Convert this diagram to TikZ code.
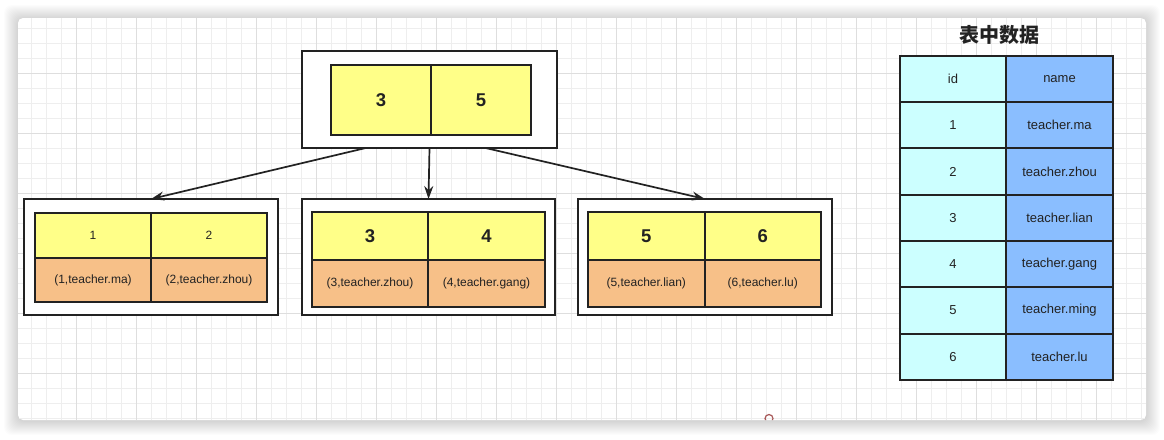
\documentclass[tikz,border=0pt]{standalone}
\usepackage{fontspec}
\setmainfont{Liberation Sans}
\newfontfamily\cjk{Noto Sans CJK SC}
\usetikzlibrary{arrows.meta,calc,positioning}

\definecolor{keyyellow}{HTML}{FFFF88}
\definecolor{dataorange}{HTML}{F7C088}
\definecolor{idcyan}{HTML}{CCFFFF}
\definecolor{nameblue}{HTML}{8ABEFF}
\definecolor{linegray}{HTML}{222222}
\definecolor{textgray}{HTML}{222222}
\definecolor{minorgrid}{HTML}{EEEEEE}
\definecolor{majorgrid}{HTML}{DEDEDE}
\definecolor{dotred}{HTML}{A85858}

\tikzset{
    outerbox/.style={draw=linegray, line width=2pt, fill=white, inner sep=0pt, outer sep=0pt},
    cell/.style={draw=linegray, line width=2pt, inner sep=0pt, outer sep=0pt, text=textgray},
    keycell/.style={cell, fill=keyyellow, font=\fontsize{18.5}{20}\selectfont\bfseries},
    smallkey/.style={cell, fill=keyyellow, font=\fontsize{12}{14}\selectfont},
    datacell/.style={cell, fill=dataorange, font=\fontsize{12}{14}\selectfont},
    idcell/.style={cell, fill=idcyan, minimum width=106pt, minimum height=46.33pt, font=\fontsize{13}{15}\selectfont},
    namecell/.style={cell, fill=nameblue, minimum width=107pt, minimum height=46.33pt, font=\fontsize{13}{15}\selectfont},
    link/.style={draw=linegray, line width=1.7pt, -{Stealth[length=13pt,width=9pt]}},
}

\begin{document}
\begin{tikzpicture}[x=1pt, y=-1pt]
    \useasboundingbox (0,0) rectangle (1164,439);
    \fill[white] (0,0) rectangle (1164,439);

    % Panel with soft shadow
    \foreach \s in {1,...,14}
        \fill[black, opacity=0.011, rounded corners=8pt] (18-\s,19-\s) rectangle (1146+\s,421+\s);
    \fill[white, rounded corners=5pt] (18,18) rectangle (1146,420);

    % Grid
    \begin{scope}
        \clip[rounded corners=5pt] (18,18) rectangle (1146,420);
        \foreach \i in {2,...,76}
            \draw[minorgrid, line width=1pt] ({1.7+15*\i},18) -- ({1.7+15*\i},420);
        \foreach \i in {1,...,27}
            \draw[minorgrid, line width=1pt] (18,{13.3+15*\i}) -- (1146,{13.3+15*\i});
        \foreach \i in {1,...,18}
            \draw[majorgrid, line width=1pt] ({16.7+60*\i},18) -- ({16.7+60*\i},420);
        \foreach \i in {1,...,6}
            \draw[majorgrid, line width=1pt] (18,{13.3+60*\i}) -- (1146,{13.3+60*\i});
        \draw[dotred, line width=1.2pt] (769,418.5) circle[radius=4pt];
    \end{scope}

    % Root node
    \node[outerbox, minimum width=255pt, minimum height=97pt] (root) at (429.5,99.5) {};
    \node[keycell, minimum width=100pt, minimum height=70pt] (rootA) at (381,100) {3};
    \node[keycell, minimum width=100pt, minimum height=70pt, right=0pt of rootA] (rootB) {5};

    % Leaf 1
    \node[outerbox, minimum width=254pt, minimum height=116pt] (leafA) at (151,257) {};
    \node[smallkey, minimum width=116pt, minimum height=45pt] (keyA1) at (93,235.5) {1};
    \node[smallkey, minimum width=116pt, minimum height=45pt, right=0pt of keyA1] (keyA2) {2};
    \node[datacell, minimum width=116pt, minimum height=44pt, below=0pt of keyA1] (rowA1) {(1,teacher.ma)};
    \node[datacell, minimum width=116pt, minimum height=44pt, below=0pt of keyA2] (rowA2) {(2,teacher.zhou)};

    % Leaf 2
    \node[outerbox, minimum width=253pt, minimum height=116pt] (leafB) at (428.5,257) {};
    \node[keycell, minimum width=116pt, minimum height=48pt] (keyB1) at (370,236) {3};
    \node[keycell, minimum width=117pt, minimum height=48pt, right=0pt of keyB1] (keyB2) {4};
    \node[datacell, minimum width=116pt, minimum height=46.7pt, below=0pt of keyB1] (rowB1) {(3,teacher.zhou)};
    \node[datacell, minimum width=117pt, minimum height=46.7pt, below=0pt of keyB2] (rowB2) {(4,teacher.gang)};

    % Leaf 3
    \node[outerbox, minimum width=254pt, minimum height=116pt] (leafC) at (705,257) {};
    \node[keycell, minimum width=116.5pt, minimum height=48pt] (keyC1) at (646.25,236) {5};
    \node[keycell, minimum width=116.5pt, minimum height=48pt, right=0pt of keyC1] (keyC2) {6};
    \node[datacell, minimum width=116.5pt, minimum height=46.7pt, below=0pt of keyC1] (rowC1) {(5,teacher.lian)};
    \node[datacell, minimum width=116.5pt, minimum height=46.7pt, below=0pt of keyC2] (rowC2) {(6,teacher.lu)};

    % Links
    \draw[link] ($(root.south west)!0.25!(root.south east)$) -- (leafA.north);
    \draw[link] (root.south) -- (leafB.north);
    \draw[link] ($(root.south west)!0.72!(root.south east)$) -- (leafC.north);

    % Table
    \node[text=textgray, font=\cjk\bfseries\fontsize{20}{24}\selectfont] (title) at (999,35) {表中数据};
    \foreach \id/\name [count=\r from 0] in {id/name, 1/teacher.ma, 2/teacher.zhou, 3/teacher.lian,
            4/teacher.gang, 5/teacher.ming, 6/teacher.lu} {
        \node[idcell] (id\r) at (953,{78.87+46.33*\r}) {\id};
        \node[namecell, right=0pt of id\r] (name\r) {\name};
    }
\end{tikzpicture}
\end{document}
